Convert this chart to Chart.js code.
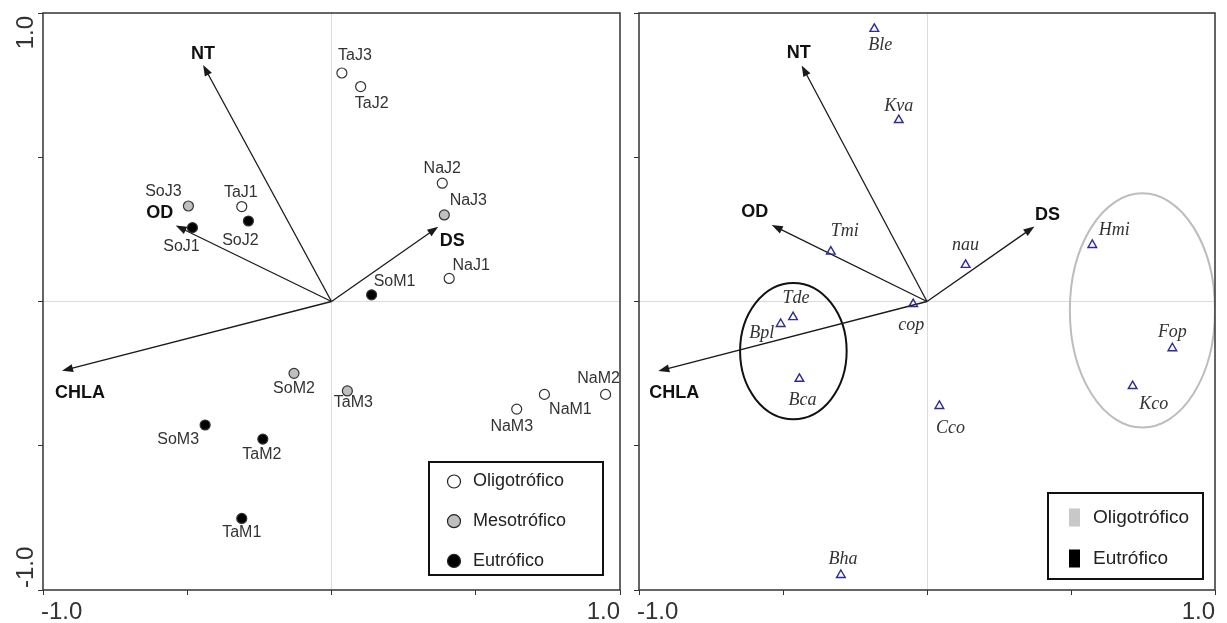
<!DOCTYPE html>
<html>
<head>
<meta charset="utf-8">
<script src="https://cdn.jsdelivr.net/npm/chart.js@4.4.1/dist/chart.umd.min.js"></script>
<style>
  body { margin: 0; background: #fff; }
  #leftBox { position: absolute; left: 0; top: 0; width: 630px; height: 623px; }
  #rightBox { position: absolute; left: 630px; top: 0; width: 597px; height: 623px; }
</style>
</head>
<body>
<div id="leftBox"><canvas id="sitesChart"></canvas></div>
<div id="rightBox"><canvas id="speciesChart"></canvas></div>
<script>
// sites (left panel)
const siteNames = ['TaJ3', 'TaJ2', 'NaJ2', 'NaJ3', 'NaJ1', 'SoM1', 'SoJ3', 'TaJ1', 'SoJ2', 'SoJ1', 'SoM2', 'SoM3', 'TaM2', 'TaM1', 'TaM3', 'NaM3', 'NaM1', 'NaM2'];
const siteX = [0.036, 0.101, 0.384, 0.391, 0.408, 0.139, -0.496, -0.311, -0.288, -0.482, -0.130, -0.438, -0.238, -0.311, 0.055, 0.642, 0.738, 0.950];
const siteY = [0.792, 0.745, 0.410, 0.300, 0.080, 0.023, 0.331, 0.329, 0.279, 0.256, -0.249, -0.428, -0.477, -0.752, -0.310, -0.373, -0.322, -0.322];
const siteState = [0, 0, 0, 1, 0, 2, 1, 0, 2, 2, 1, 2, 2, 2, 1, 0, 0, 0];
const stateNames = ['Oligotrófico', 'Mesotrófico', 'Eutrófico'];

// environmental vectors
const envNames = ['NT', 'OD', 'DS', 'CHLA'];
const envSitesX = [-0.445, -0.540, 0.370, -0.934];
const envSitesY = [0.820, 0.263, 0.259, -0.240];
const envSpeciesX = [-0.435, -0.539, 0.373, -0.933];
const envSpeciesY = [0.818, 0.265, 0.260, -0.241];

// species (right panel)
const speciesNames = ['Ble', 'Kva', 'Tmi', 'nau', 'Hmi', 'cop', 'Tde', 'Bpl', 'Bca', 'Bha', 'Cco', 'Fop', 'Kco'];
const speciesX = [-0.183, -0.098, -0.334, 0.134, 0.574, -0.048, -0.465, -0.508, -0.443, -0.299, 0.043, 0.852, 0.714];
const speciesY = [0.945, 0.629, 0.173, 0.127, 0.196, -0.009, -0.054, -0.078, -0.268, -0.948, -0.362, -0.162, -0.293];

// groups drawn as ellipses on the species panel
const groupNames = ['Oligotrófico', 'Eutrófico'];
const groupCx = [0.748, -0.464];
const groupCy = [-0.031, -0.172];
const groupRx = [0.252, 0.185];
const groupRy = [0.406, 0.236];

// axis tick labels
const tickValues = [-1, 1];
const tickLabels = ['-1.0', '1.0'];

// label placement (pixel offsets from the mark)
const siteLabelDx = [13, 11, 0, 24, 22, 23, -25, -1, -8, -11, 0, -27, -1, 0, 6, -5, 26, -7];
const siteLabelDy = [-17, 17, -15, -14, -13, -13, -14, -14, 20, 19, 15, 15, 15, 14, 12, 17, 15, -16];
const speciesLabelDx = [6, 0, 14, 0, 22, -2, 3, -19, 3, 2, 11, 0, 21];
const speciesLabelDy = [16, -14, -20, -20, -15, 21, -19, 9, 21, -16, 22, -16, 18];
const envSitesLabelDx = [0, -16, 14, 18];
const envSitesLabelDy = [-11, -13, 14, 22];
const envSpeciesLabelDx = [-3, -17, 13, 16];
const envSpeciesLabelDy = [-12, -13, -11, 22];

const stateFill = ['#ffffff', '#bfbfbf', '#000000'];
const groupColor = ['#bdbdbd', '#111111'];
const sans = '"Liberation Sans", Arial, sans-serif';
const serif = '"Liberation Serif", "Times New Roman", serif';

function drawArrow(ctx, x0, y0, x1, y1) {
  const a = Math.atan2(y1 - y0, x1 - x0);
  const hl = 11, hw = 4;
  ctx.beginPath();
  ctx.moveTo(x0, y0);
  ctx.lineTo(x1 - Math.cos(a) * hl * 0.7, y1 - Math.sin(a) * hl * 0.7);
  ctx.stroke();
  ctx.beginPath();
  ctx.moveTo(x1, y1);
  ctx.lineTo(x1 - hl * Math.cos(a) + hw * Math.sin(a), y1 - hl * Math.sin(a) - hw * Math.cos(a));
  ctx.lineTo(x1 - hl * Math.cos(a) - hw * Math.sin(a), y1 - hl * Math.sin(a) + hw * Math.cos(a));
  ctx.closePath();
  ctx.fill();
}

function ordinationPlugin(cfg) {
  return {
    id: 'ordination',
    beforeDatasetsDraw(chart) {
      const { ctx, chartArea: a, scales: { x, y } } = chart;
      ctx.save();
      // ellipses
      if (cfg.ellipses) {
        ctx.save();
        ctx.beginPath();
        ctx.rect(a.left, a.top, a.right - a.left, a.bottom - a.top);
        ctx.clip();
        groupCx.forEach((cx, i) => {
          const px = x.getPixelForValue(cx), py = y.getPixelForValue(groupCy[i]);
          const rx = Math.abs(x.getPixelForValue(cx + groupRx[i]) - px);
          const ry = Math.abs(y.getPixelForValue(groupCy[i] + groupRy[i]) - py);
          ctx.beginPath();
          ctx.ellipse(px, py, rx, ry, 0, 0, Math.PI * 2);
          ctx.strokeStyle = groupColor[i];
          ctx.lineWidth = 2;
          ctx.stroke();
        });
        ctx.restore();
      }
      // vectors
      const ox = x.getPixelForValue(0), oy = y.getPixelForValue(0);
      ctx.strokeStyle = '#1a1a1a';
      ctx.fillStyle = '#1a1a1a';
      ctx.lineWidth = 1.3;
      cfg.envX.forEach((v, i) => {
        drawArrow(ctx, ox, oy, x.getPixelForValue(v), y.getPixelForValue(cfg.envY[i]));
      });
      ctx.restore();
    },
    afterDatasetsDraw(chart) {
      const { ctx, scales: { x, y } } = chart;
      ctx.save();
      ctx.textAlign = 'center';
      ctx.textBaseline = 'middle';
      // vector labels
      ctx.font = 'bold 18px ' + sans;
      ctx.fillStyle = '#111';
      envNames.forEach((n, i) => {
        ctx.fillText(n, x.getPixelForValue(cfg.envX[i]) + cfg.envDx[i], y.getPixelForValue(cfg.envY[i]) + cfg.envDy[i]);
      });
      // point labels
      ctx.font = cfg.labelFont;
      ctx.fillStyle = '#333';
      const pts = chart.getDatasetMeta(0).data;
      cfg.names.forEach((n, i) => {
        ctx.fillText(n, pts[i].x + cfg.dx[i], pts[i].y + cfg.dy[i]);
      });
      ctx.restore();
    },
    afterDraw(chart) {
      const { ctx, chartArea: a, scales: { x, y } } = chart;
      ctx.save();
      // frame
      ctx.strokeStyle = '#333';
      ctx.lineWidth = 1.5;
      ctx.strokeRect(a.left, a.top, a.right - a.left, a.bottom - a.top);
      // tick labels
      ctx.fillStyle = '#333';
      ctx.font = '24px ' + sans;
      ctx.textBaseline = 'middle';
      tickValues.forEach((v, i) => {
        ctx.textAlign = v < 0 ? 'left' : 'right';
        ctx.fillText(tickLabels[i], x.getPixelForValue(v) + (v < 0 ? -2 : 0), a.bottom + 22);
      });
      if (cfg.yLabels) {
        tickValues.forEach((v, i) => {
          ctx.save();
          ctx.translate(a.left - 17, y.getPixelForValue(v) + (v < 0 ? -2 : 3));
          ctx.rotate(-Math.PI / 2);
          ctx.textAlign = v < 0 ? 'left' : 'right';
          ctx.fillText(tickLabels[i], 0, 0);
          ctx.restore();
        });
      }
      cfg.legend(ctx, a);
      ctx.restore();
    }
  };
}

function axis(isX, yWidth) {
  return {
    type: 'linear',
    min: -1,
    max: 1,
    ticks: { stepSize: 0.5, display: false },
    grid: {
      color: c => (c.tick && c.tick.value === 0) ? '#dcdcdc' : 'rgba(0,0,0,0)',
      tickColor: '#333',
      tickLength: 5,
      lineWidth: 1
    },
    border: { display: false },
    afterFit: s => { if (isX) s.height = 33; else s.width = yWidth; }
  };
}

function sitesLegend(ctx, a) {
  const bx = a.right - 191, by = a.bottom - 128, bw = 174, bh = 113;
  ctx.fillStyle = '#fff';
  ctx.fillRect(bx, by, bw, bh);
  ctx.strokeStyle = '#111';
  ctx.lineWidth = 2;
  ctx.strokeRect(bx, by, bw, bh);
  ctx.font = '18px ' + sans;
  ctx.textAlign = 'left';
  ctx.textBaseline = 'middle';
  stateNames.forEach((n, i) => {
    const cy = by + 19.5 + i * 39.7;
    ctx.beginPath();
    ctx.arc(bx + 25, cy, 6.5, 0, Math.PI * 2);
    ctx.fillStyle = stateFill[i];
    ctx.fill();
    ctx.lineWidth = 1.2;
    ctx.strokeStyle = '#222';
    ctx.stroke();
    ctx.fillStyle = '#222';
    ctx.fillText(n, bx + 44, cy);
  });
}

function speciesLegend(ctx, a) {
  const bx = a.right - 167, by = a.bottom - 97, bw = 155, bh = 86;
  ctx.fillStyle = '#fff';
  ctx.fillRect(bx, by, bw, bh);
  ctx.strokeStyle = '#111';
  ctx.lineWidth = 2;
  ctx.strokeRect(bx, by, bw, bh);
  ctx.font = '19px ' + sans;
  ctx.textAlign = 'left';
  ctx.textBaseline = 'middle';
  groupNames.forEach((n, i) => {
    const cy = by + 24.5 + i * 41;
    ctx.fillStyle = groupColor[i] === '#111111' ? '#000' : '#c8c8c8';
    ctx.fillRect(bx + 21, cy - 9, 11, 18);
    ctx.fillStyle = '#222';
    ctx.fillText(n, bx + 45, cy);
  });
}

new Chart(document.getElementById('sitesChart'), {
  type: 'scatter',
  data: {
    datasets: [{
      data: siteX.map((v, i) => ({ x: v, y: siteY[i] })),
      backgroundColor: siteState.map(s => stateFill[s]),
      borderColor: '#333',
      borderWidth: 1.2,
      pointRadius: 5,
      pointHoverRadius: 5
    }]
  },
  options: {
    responsive: true,
    maintainAspectRatio: false,
    animation: false,
    layout: { padding: { top: 13, right: 10, left: 0, bottom: 0 } },
    scales: { x: axis(true), y: axis(false, 43) },
    plugins: { legend: { display: false }, tooltip: { enabled: false } }
  },
  plugins: [ordinationPlugin({
    envX: envSitesX, envY: envSitesY, envDx: envSitesLabelDx, envDy: envSitesLabelDy,
    names: siteNames, dx: siteLabelDx, dy: siteLabelDy,
    labelFont: '16px ' + sans, yLabels: true, ellipses: false, legend: sitesLegend
  })]
});

new Chart(document.getElementById('speciesChart'), {
  type: 'scatter',
  data: {
    datasets: [{
      data: speciesX.map((v, i) => ({ x: v, y: speciesY[i] })),
      pointStyle: 'triangle',
      backgroundColor: 'rgba(255,255,255,0)',
      borderColor: '#2a2a9c',
      borderWidth: 1.4,
      pointRadius: 5,
      pointHoverRadius: 5
    }]
  },
  options: {
    responsive: true,
    maintainAspectRatio: false,
    animation: false,
    layout: { padding: { top: 13, right: 12, left: 0, bottom: 0 } },
    scales: { x: axis(true), y: axis(false, 9) },
    plugins: { legend: { display: false }, tooltip: { enabled: false } }
  },
  plugins: [ordinationPlugin({
    envX: envSpeciesX, envY: envSpeciesY, envDx: envSpeciesLabelDx, envDy: envSpeciesLabelDy,
    names: speciesNames, dx: speciesLabelDx, dy: speciesLabelDy,
    labelFont: 'italic 18px ' + serif, yLabels: false, ellipses: true, legend: speciesLegend
  })]
});
</script>
</body>
</html>
